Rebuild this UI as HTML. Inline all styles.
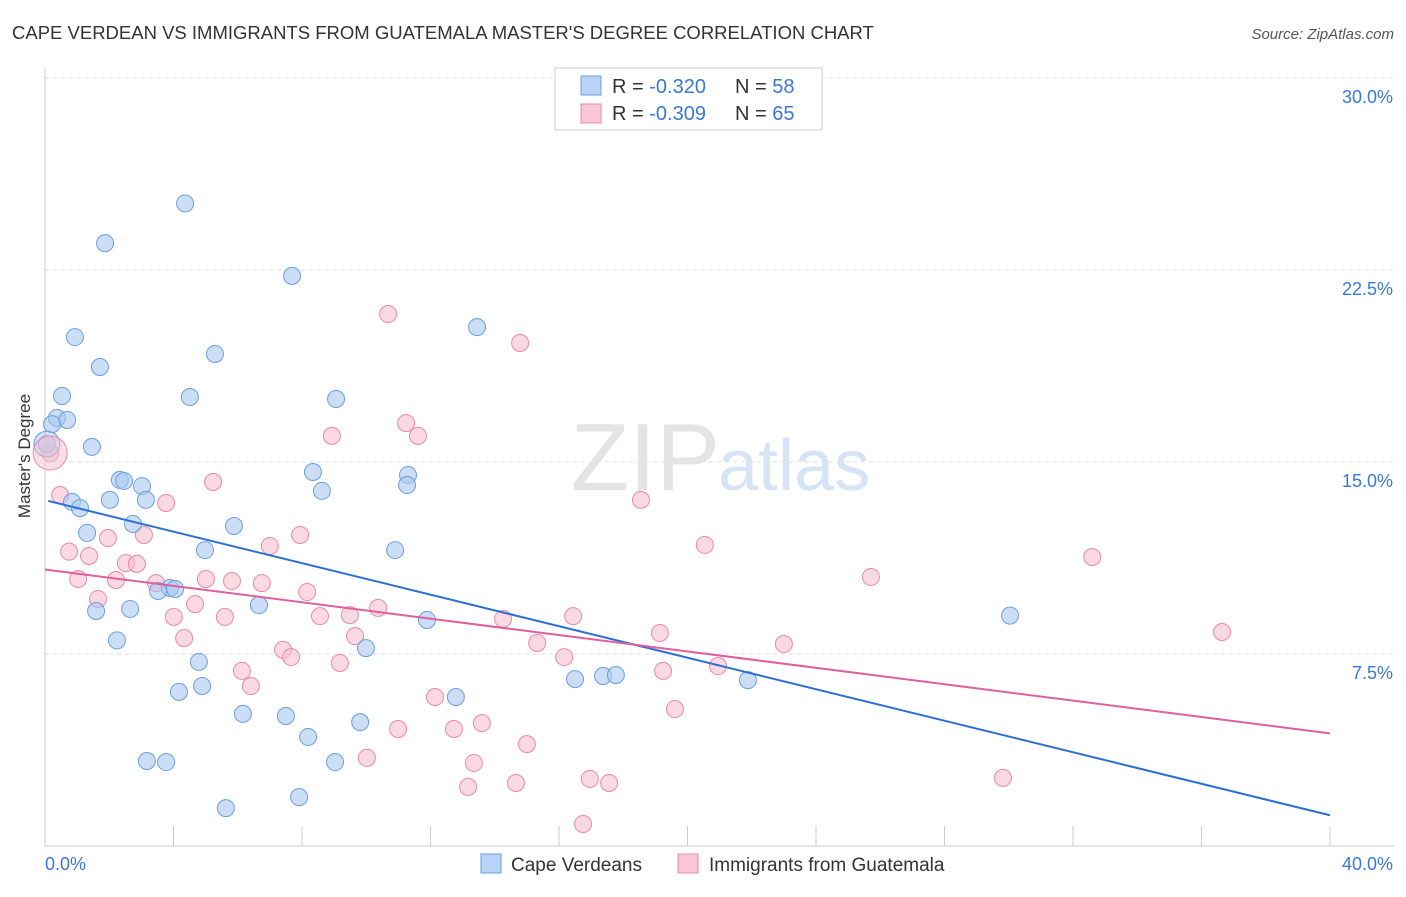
<!DOCTYPE html>
<html><head><meta charset="utf-8"><style>
body{margin:0;background:#fff;font-family:"Liberation Sans",sans-serif;}
svg text{font-family:"Liberation Sans",sans-serif;}
</style></head><body>
<svg id="c" width="1406" height="892" viewBox="0 0 1406 892" xmlns="http://www.w3.org/2000/svg">
<text x="12" y="39" font-size="18.5" fill="#333">CAPE VERDEAN VS IMMIGRANTS FROM GUATEMALA MASTER'S DEGREE CORRELATION CHART</text>
<text x="1394" y="39" font-size="15" fill="#555" font-style="italic" text-anchor="end">Source: ZipAtlas.com</text>
<text x="30" y="456" font-size="17" fill="#333" text-anchor="middle" transform="rotate(-90 30 456)">Master's Degree</text>
<g id="grid"></g>
<text x="720" y="490" font-size="96" fill="#e4e4e4" font-family="Liberation Serif" text-anchor="end">ZIP</text>
<text x="718" y="490" font-size="72" fill="#d6e4f6">atlas</text>
<g id="pts"></g>
<g id="lines"></g>
<g>
<rect x="555" y="68" width="267" height="62" fill="#fff" stroke="#ccc"/>
<rect x="581" y="76" width="20" height="19" fill="#b8d3f5" stroke="#6a9fe0"/>
<rect x="581" y="104" width="20" height="19" fill="#f9c6d6" stroke="#e88aa8"/>
<text x="612" y="93" font-size="20" fill="#333">R = <tspan fill="#3a78d8">-0.320</tspan></text>
<text x="735" y="93" font-size="20" fill="#333">N = <tspan fill="#3a78d8">58</tspan></text>
<text x="612" y="120" font-size="20" fill="#333">R = <tspan fill="#3a78d8">-0.309</tspan></text>
<text x="735" y="120" font-size="20" fill="#333">N = <tspan fill="#3a78d8">65</tspan></text>
</g>
<g>
<rect x="481" y="854" width="20" height="19" fill="#b8d3f5" stroke="#6a9fe0"/>
<text x="511" y="871" font-size="19" fill="#333">Cape Verdeans</text>
<rect x="678" y="854" width="20" height="19" fill="#f9c6d6" stroke="#e88aa8"/>
<text x="709" y="871" font-size="19" fill="#333">Immigrants from Guatemala</text>
</g>
</svg>
<script>
const xTicks=[0,40];
const yTicks=[7.5,15,22.5,30];
const blueX=[4.36,1.87,7.69,13.45,0.93,5.29,1.71,0.53,4.51,9.06,0.37,0.69,0.22,1.46,8.34,11.3,2.33,2.46,11.27,3.02,8.62,0.84,2.02,3.14,1.09,2.74,5.88,1.31,4.98,10.9,3.89,3.52,4.05,1.59,2.65,6.66,11.89,2.24,9.99,4.79,30.04,16.5,17.37,17.77,21.88,4.17,4.89,12.79,6.16,7.5,9.81,8.19,3.17,3.77,9.03,7.91,5.63,0.06];
const blueY=[25.1,23.55,22.27,20.27,19.88,19.22,18.71,17.58,17.54,17.46,16.72,16.64,16.48,15.59,14.61,14.49,14.3,14.26,14.1,14.06,13.87,13.44,13.52,13.52,13.2,12.58,12.5,12.23,11.56,11.56,10.08,9.96,10.04,9.18,9.26,9.41,8.83,8.03,7.73,7.19,9.0,6.52,6.64,6.68,6.48,6.02,6.25,5.82,5.16,5.08,4.84,4.26,3.32,3.28,3.28,1.91,1.48,15.7];
const pinkX=[10.68,14.79,11.24,8.93,11.61,0.16,0.47,5.23,3.77,18.55,0.75,1.37,1.96,3.08,7.0,7.94,20.54,32.6,1.03,2.21,2.52,2.86,3.46,5.01,5.82,6.75,25.71,8.16,4.67,1.65,4.01,5.6,8.56,9.49,10.37,14.26,16.44,4.33,9.65,15.32,19.14,23.0,36.64,7.41,7.66,9.18,16.16,6.13,19.24,20.95,6.41,12.14,19.61,10.99,12.73,13.6,15.0,10.02,13.35,13.17,14.66,16.96,17.56,29.82,16.75];
const pinkY=[20.78,19.65,16.52,16.02,16.02,15.35,13.71,14.22,13.4,13.52,11.5,11.33,12.03,12.15,11.72,12.15,11.76,11.29,10.43,10.39,11.05,11.02,10.27,10.43,10.35,10.27,10.51,9.92,9.45,9.65,8.95,8.95,8.98,9.02,9.3,8.87,8.98,8.12,8.2,7.93,8.32,7.89,8.36,7.66,7.38,7.15,7.38,6.84,6.84,7.03,6.25,5.82,5.35,4.57,4.57,4.8,3.98,3.44,3.24,2.31,2.46,2.62,2.46,2.66,0.86];
const blueBig=[0.06,15.7];
const pinkBig=[0.16,15.35];
const blueLine=[13.48,1.2];
const pinkLine=[10.8,4.4];
const NS="http://www.w3.org/2000/svg";
const X=v=>45+v*32.125, Y=v=>846-v*25.6;
function mk(t,a,p){const e=document.createElementNS(NS,t);for(const k in a)e.setAttribute(k,a[k]);p.appendChild(e);return e;}
const g=document.getElementById('grid');
yTicks.forEach(t=>{const l=mk('line',{x1:45,x2:1394,y1:Y(t),y2:Y(t),stroke:'#ddd','stroke-dasharray':'4,4'},g);


const tx=mk('text',{x:1393,y:Y(t)+25,'font-size':18,fill:'#3a78d8','text-anchor':'end'},g);tx.textContent=t.toFixed(1)+'%';

});
mk('line',{x1:45,x2:45,y1:68,y2:846,stroke:'#ccc'},g);
mk('line',{x1:45,x2:1394,y1:846,y2:846,stroke:'#ccc'},g);
for(let i=0;i<=10;i++){mk('line',{x1:X(i*4),x2:X(i*4),y1:826,y2:846,stroke:'#ccc'},g);}
xTicks.forEach((t,i)=>{const tx=mk('text',{x:i?1393:45,y:870,'font-size':18,fill:'#3a78d8','text-anchor':i?'end':'start'},g);tx.textContent=t.toFixed(1)+'%';

});
const p=document.getElementById('pts');
function dots(xs,ys,f,s,n){xs.forEach((x,i)=>{const c=mk('circle',{cx:X(x),cy:Y(ys[i]),r:8.5,fill:f,'fill-opacity':0.6,stroke:s,'stroke-width':1},p);

});}
dots(pinkX,pinkY,'#f7bfd0','#e88aa8','guatemala-point');
dots(blueX,blueY,'#a9c8f0','#6a9fe0','cape-verdean-point');
const bb=mk('circle',{cx:X(blueBig[0]),cy:Y(blueBig[1]),r:13,fill:'#a9c8f0','fill-opacity':0.5,stroke:'#6a9fe0'},p);


const pb=mk('circle',{cx:X(pinkBig[0]),cy:Y(pinkBig[1]),r:17,fill:'#f7bfd0','fill-opacity':0.5,stroke:'#e88aa8'},p);


const L=document.getElementById('lines');
const bl=mk('line',{x1:X(0.1),y1:Y(blueLine[0]),x2:X(40),y2:Y(blueLine[1]),stroke:'#2b6fd6','stroke-width':2},L);


const pl=mk('line',{x1:X(0),y1:Y(pinkLine[0]),x2:X(40),y2:Y(pinkLine[1]),stroke:'#e0609a','stroke-width':2},L);


</script>
</body></html>
